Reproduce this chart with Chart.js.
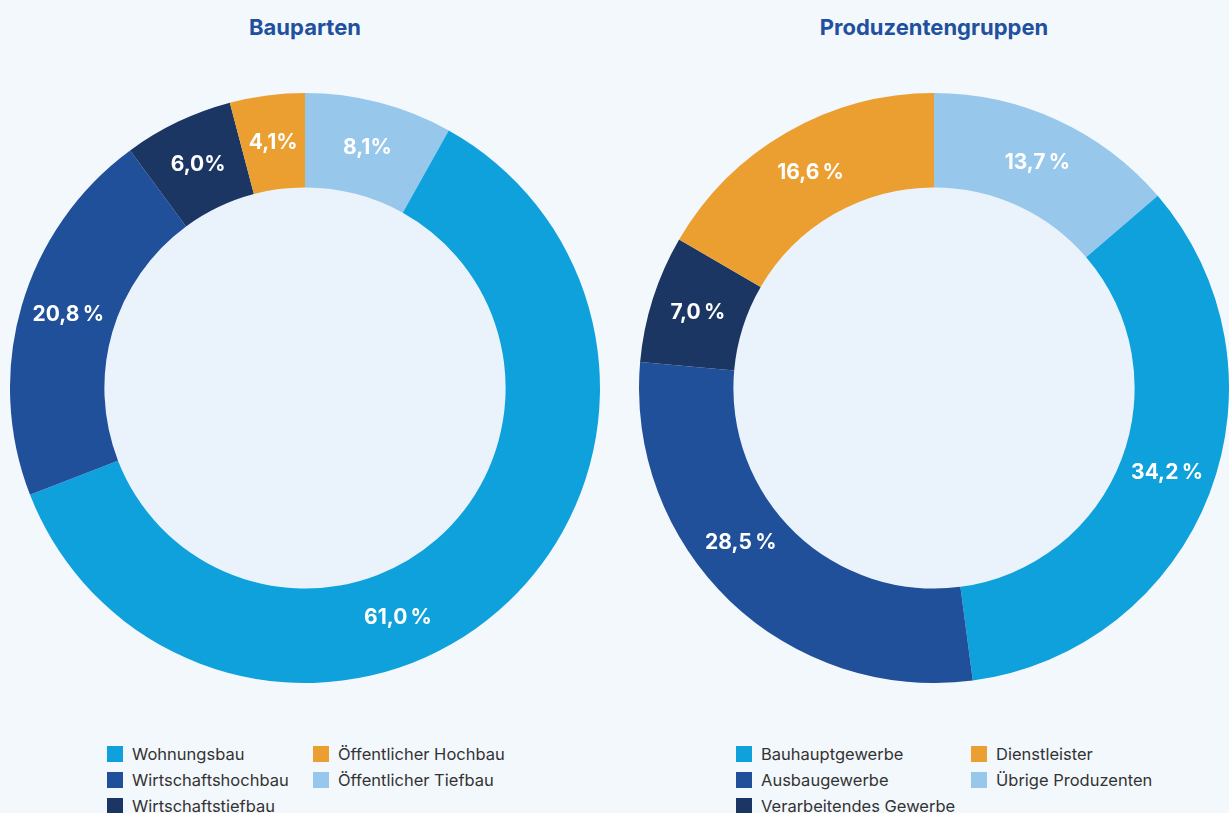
<!DOCTYPE html>
<html lang="de">
<head>
<meta charset="utf-8">
<script src="https://cdn.jsdelivr.net/npm/chart.js@4.4.1/dist/chart.umd.min.js"></script>
<style>
    html, body { margin: 0; padding: 0; }
    body {
        width: 1229px;
        height: 813px;
        background: #f3f8fd;
        position: relative;
        overflow: hidden;
        font-family: 'Inter', 'Noto Sans', sans-serif;
    }
    .title {
        position: absolute;
        top: 14px;
        width: 400px;
        text-align: center;
        font-weight: 700;
        font-size: 22px;
        color: #21509e;
    }
    .chart-box {
        position: absolute;
        top: 93px;
        width: 590px;
        height: 590px;
    }
    .legend {
        position: absolute;
        top: 744px;
        font-size: 16.5px;
        color: #333333;
    }
    .legend .item {
        position: absolute;
        white-space: nowrap;
        line-height: 20px;
    }
    .legend .item span {
        position: absolute;
        left: 0;
        top: 2px;
        width: 16px;
        height: 16px;
    }
    .legend .item div { margin-left: 25px; }
</style>
</head>
<body>
<div class="title" style="left:105px">Bauparten</div>
<div class="title" style="left:734px">Produzentengruppen</div>
<div class="chart-box" style="left:10px"><canvas id="baupartenChart"></canvas></div>
<div class="chart-box" style="left:639px"><canvas id="produzentenChart"></canvas></div>
<div class="legend" id="baupartenLegend" style="left:107px"></div>
<div class="legend" id="produzentenLegend" style="left:736px"></div>

<script>
// Bauparten, clockwise from 12 o'clock
const bauCategories = ['Öffentlicher Tiefbau', 'Wohnungsbau', 'Wirtschaftshochbau', 'Wirtschaftstiefbau', 'Öffentlicher Hochbau'];
const bauValues = [8.1, 61.0, 20.8, 6.0, 4.1];
const bauColors = ['#97c8ec', '#0fa1dc', '#21509b', '#1c3664', '#ec9f31'];
const bauLegendOrder = ['Wohnungsbau', 'Wirtschaftshochbau', 'Wirtschaftstiefbau', 'Öffentlicher Hochbau', 'Öffentlicher Tiefbau'];

// Produzentengruppen, clockwise from 12 o'clock
const prodCategories = ['Übrige Produzenten', 'Bauhauptgewerbe', 'Ausbaugewerbe', 'Verarbeitendes Gewerbe', 'Dienstleister'];
const prodValues = [13.7, 34.2, 28.5, 7.0, 16.6];
const prodColors = ['#97c8ec', '#0fa1dc', '#21509b', '#1c3664', '#ec9f31'];
const prodLegendOrder = ['Bauhauptgewerbe', 'Ausbaugewerbe', 'Verarbeitendes Gewerbe', 'Dienstleister', 'Übrige Produzenten'];

function formatPct(v, tight) {
    return v.toFixed(1).replace('.', ',') + (tight ? '%' : '\u2009%');
}

// fills the hole and writes the percentages onto the ring
const ringPlugin = {
    id: 'ringPlugin',
    beforeDatasetsDraw(chart) {
        const arc = chart.getDatasetMeta(0).data[0];
        if (!arc) return;
        const ctx = chart.ctx;
        ctx.save();
        ctx.fillStyle = '#eaf3fc';
        ctx.beginPath();
        ctx.arc(arc.x, arc.y, arc.innerRadius, 0, Math.PI * 2);
        ctx.fill();
        ctx.restore();
    },
    afterDatasetsDraw(chart, args, opts) {
        const ctx = chart.ctx;
        const values = chart.data.datasets[0].data;
        const shift = opts.shift || [];
        const tight = opts.tight || [];
        ctx.save();
        ctx.fillStyle = '#ffffff';
        ctx.font = "700 21px 'Inter', 'Noto Sans', sans-serif";
        ctx.textAlign = 'center';
        ctx.textBaseline = 'middle';
        chart.getDatasetMeta(0).data.forEach((arc, i) => {
            // middle of the ring, optionally nudged along it
            const a = (arc.startAngle + arc.endAngle) / 2 + (shift[i] || 0) * Math.PI / 180;
            const r = (arc.innerRadius + arc.outerRadius) / 2;
            ctx.fillText(formatPct(values[i], tight[i]), arc.x + Math.cos(a) * r, arc.y + Math.sin(a) * r);
        });
        ctx.restore();
    }
};

function makeDoughnut(id, labels, values, colors, labelOpts) {
    const ctx = document.getElementById(id).getContext('2d');
    return new Chart(ctx, {
        type: 'doughnut',
        data: {
            labels: labels,
            datasets: [{
                data: values,
                backgroundColor: colors,
                borderWidth: 0
            }]
        },
        options: {
            responsive: true,
            maintainAspectRatio: false,
            animation: false,
            cutout: '68%',
            layout: { padding: 0 },
            plugins: {
                legend: { display: false },
                tooltip: { enabled: false },
                ringPlugin: labelOpts
            }
        },
        plugins: [ringPlugin]
    });
}

function makeLegend(id, order, labels, colors, col2x) {
    const box = document.getElementById(id);
    order.forEach((name, i) => {
        const col = i < 3 ? 0 : 1;
        const row = col === 0 ? i : i - 3;
        const item = document.createElement('div');
        item.className = 'item';
        item.style.left = (col * col2x) + 'px';
        item.style.top = (row * 26) + 'px';
        item.innerHTML = '<span style="background:' + colors[labels.indexOf(name)] + '"></span><div>' + name + '</div>';
        box.appendChild(item);
    });
}

makeDoughnut('baupartenChart', bauCategories, bauValues, bauColors,
    { shift: [0, 19, 1, 0, 0], tight: [true, false, false, true, true] });
makeDoughnut('produzentenChart', prodCategories, prodValues, prodColors,
    { shift: [0, -1, 7.5, 0, 0] });
makeLegend('baupartenLegend', bauLegendOrder, bauCategories, bauColors, 206);
makeLegend('produzentenLegend', prodLegendOrder, prodCategories, prodColors, 235);
</script>
</body>
</html>
